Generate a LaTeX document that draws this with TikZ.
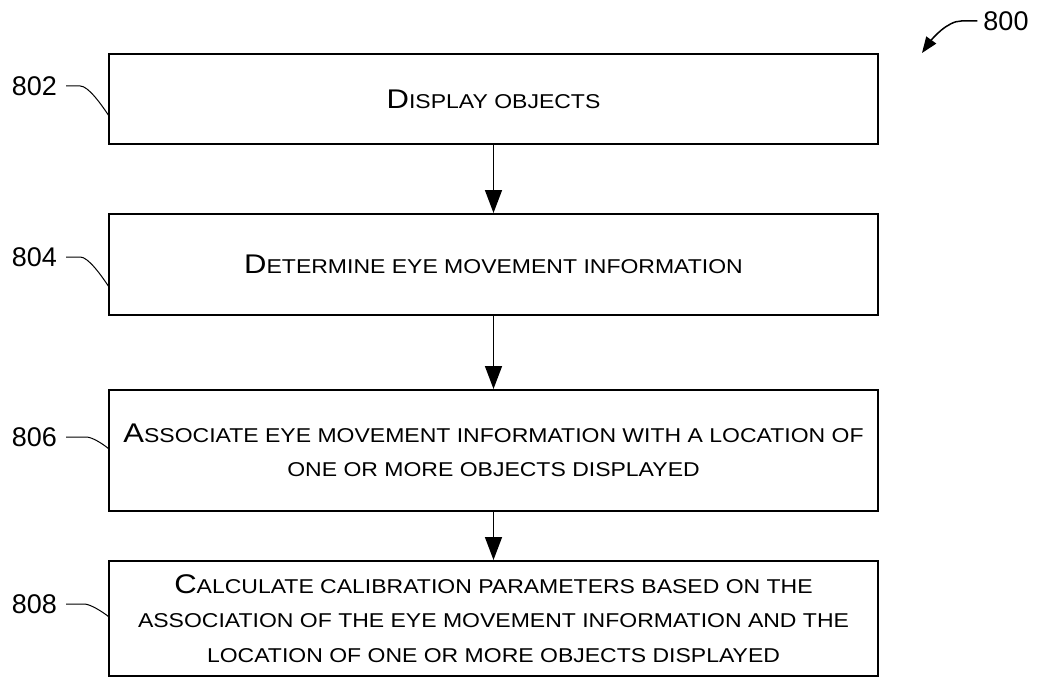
\documentclass[tikz,border=0pt]{standalone}
\usepackage{fontspec}
\setmainfont{Liberation Sans}
\newfontfamily\boxfont[FakeStretch=1.15]{Liberation Sans}
\usetikzlibrary{arrows.meta}
% larger initial capital for the small-caps step text
\newcommand\capbig[1]{{\fontsize{27}{27}\selectfont #1}}
\begin{document}
\begin{tikzpicture}[x=1pt,y=-1pt,
  stepbox/.style={draw=black, line width=2pt, minimum width=769pt, inner sep=0pt,
    align=center, font=\boxfont\fontsize{20}{34.5}\selectfont},
  reflabel/.style={font=\fontsize{27}{27}\selectfont, inner sep=0pt},
  flow/.style={line width=1.5pt, -{Triangle[length=23pt,width=17pt]}},
  leader/.style={line width=1pt},
]
\useasboundingbox (0,0) rectangle (1037,677);

% process steps
\node[stepbox, minimum height=90pt]  (s802) at (493.5,99)    {\capbig{D}ISPLAY OBJECTS};
\node[stepbox, minimum height=101pt] (s804) at (493.5,264.5) {\capbig{D}ETERMINE EYE MOVEMENT INFORMATION};
\node[stepbox, minimum height=121pt] (s806) at (493.5,450.5) {\capbig{A}SSOCIATE EYE MOVEMENT INFORMATION WITH A LOCATION OF\\ONE OR MORE OBJECTS DISPLAYED};
\node[stepbox, minimum height=115pt] (s808) at (493.5,618.5) {\capbig{C}ALCULATE CALIBRATION PARAMETERS BASED ON THE\\ASSOCIATION OF THE EYE MOVEMENT INFORMATION AND THE\\LOCATION OF ONE OR MORE OBJECTS DISPLAYED};

% flow arrows
\draw[flow] (s802.south) -- (s804.north);
\draw[flow] (s804.south) -- (s806.north);
\draw[flow] (s806.south) -- (s808.north);

% reference numerals with leader lines
\node[reflabel] (n802) at (34.5,86)  {802};
\node[reflabel] (n804) at (34.5,257) {804};
\node[reflabel] (n806) at (34.5,437) {806};
\node[reflabel] (n808) at (34.5,604) {808};

\coordinate (e802) at (109,116);
\coordinate (e804) at (109,287);
\coordinate (e806) at (109,449);
\coordinate (e808) at (109,617);

\draw[leader] (n802.east) ++(9,0) coordinate (a802) -- ++(14,0) .. controls ++(8,0) and ++(-8,-12) .. (e802);
\draw[leader] (n804.east) ++(9,0) coordinate (a804) -- ++(14,0) .. controls ++(8,0) and ++(-8,-12) .. (e804);
\draw[leader] (n806.east) ++(9,0) coordinate (a806) -- ++(20,0) .. controls ++(6,0) and ++(-6,-5) .. (e806);
\draw[leader] (n808.east) ++(9,0) coordinate (a808) -- ++(18,0) .. controls ++(6,0) and ++(-6,-5) .. (e808);

% figure numeral
\node[reflabel] (n800) at (1006,21) {800};
\coordinate (t800) at (922,53);
\draw[line width=1.5pt, -{Triangle[length=16pt,width=12pt]}]
  (n800.west) ++(-6,0) -- ++(-16,0) .. controls ++(-14,0) and ++(10,-14) .. (t800);
\end{tikzpicture}
\end{document}
